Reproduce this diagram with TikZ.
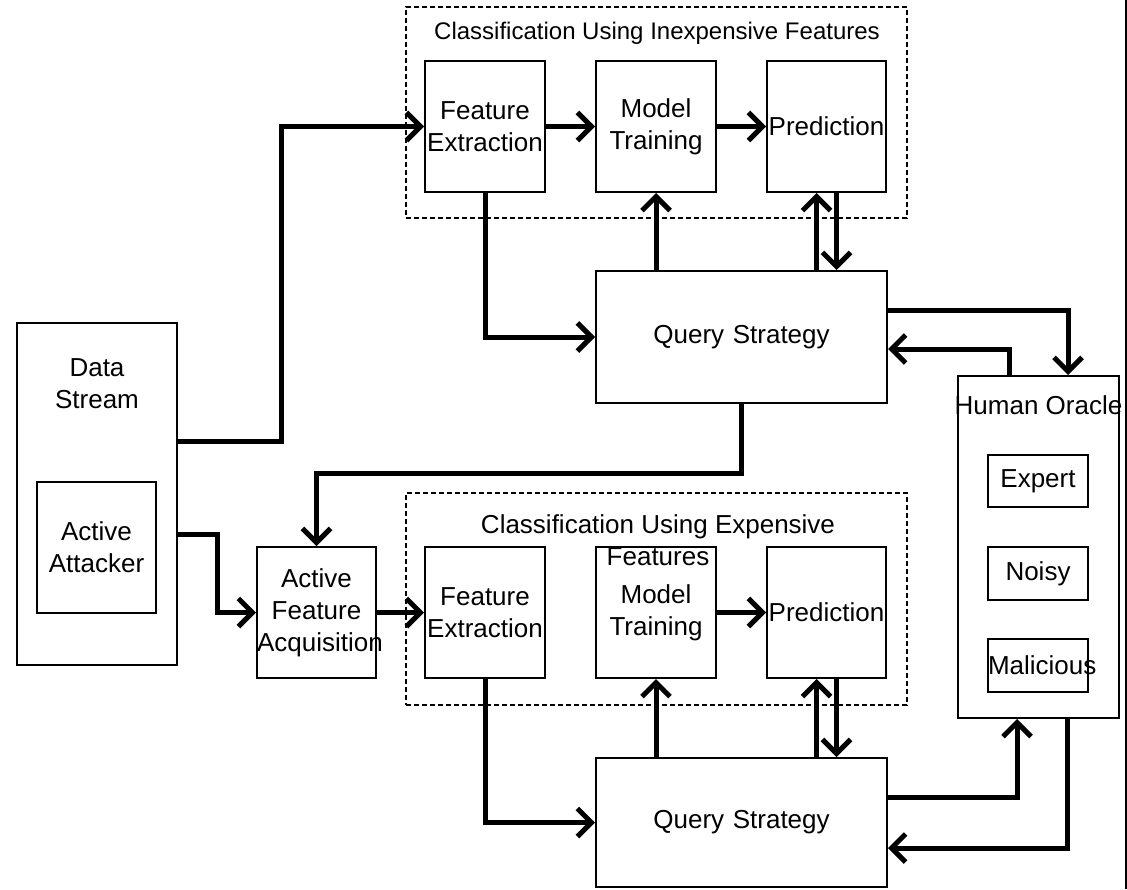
\documentclass[tikz,border=0pt]{standalone}
\usepackage{fontspec}
\setmainfont{Liberation Sans}
\usetikzlibrary{arrows.meta, positioning}
\newcommand\boxfont{\fontsize{13}{16}\selectfont}

\begin{document}
\begin{tikzpicture}[
    x=0.5pt, y=-0.5pt,
    box/.style={draw, line width=1pt, inner xsep=0pt, inner ysep=0pt, align=center, font=\boxfont},
    stage/.style={box, text width=60pt, minimum height=65.5pt},
    query/.style={box, text width=145.5pt, minimum height=66pt},
    choice/.style={box, text width=50pt, minimum height=26pt},
    group/.style={draw, line width=0.8pt, dash pattern=on 2.5pt off 1.5pt, minimum width=250.5pt},
    arr/.style={line width=2.5pt, -{Straight Barb[length=7pt,width=14pt]}}
  ]
    \useasboundingbox (0,0) rectangle (1127,889);

    \node[group, minimum height=105.5pt] (cheapgrp) at (656.5,112.5) {};
    \node[font=\fontsize{12}{15}\selectfont] (cheaptitle) at (657,33) {Classification Using Inexpensive Features};
    \node[stage] (fe1) at (485,126.5) {Feature\\Extraction};
    \node[stage] (mt1) at (656,126.5) {Model\\Training};
    \node[stage, text width=59.5pt] (pr1) at (826.5,126.5) {Prediction};
    \node[query] (qs1) at (741.5,337) {Query Strategy};

    \node[group, minimum height=106pt] (costgrp) at (656.5,599) {};
    \node[font=\boxfont, align=center] (costtitle) at (658,540) {Classification Using Expensive\\Features};
    \node[stage] (fe2) at (485,612.5) {Feature\\Extraction};
    \node[stage] (mt2) at (656,612.5) {Model\\Training};
    \node[stage, text width=59.5pt] (pr2) at (826.5,612.5) {Prediction};
    \node[query, minimum height=64.5pt] (qs2) at (741.5,822.5) {Query Strategy};

    \node[box, text width=80pt, minimum height=171pt] (ds) at (97,494) {};
    \node[font=\boxfont, align=center] (dstext) at (97,383.5) {Data\\Stream};
    \node[box, text width=59.5pt, minimum height=65.5pt] (attacker) at (96.5,547.5) {Active\\Attacker};
    \node[box, text width=59.5pt, minimum height=65.5pt] (afa) at (316.5,612.5) {Active\\Feature\\Acquisition};

    \node[box, text width=80.5pt, minimum height=171pt] (oracle) at (1038.5,547) {};
    \node[font=\boxfont] (oracletext) at (1038.5,405) {Human Oracle};
    \node[choice] (expert) at (1038,481) {Expert};
    \node[choice, minimum height=26.5pt] (noisy) at (1038,573.5) {Noisy};
    \node[choice, minimum height=26.5pt] (malicious) at (1038,665.5) {Malicious};

    \coordinate (upturn) at (281,441);
    \coordinate (downturn) at (217,534);
    \coordinate (crossover) at (741.5,473);

    \draw[arr] (ds.east |- upturn) -- (upturn) |- (fe1.west);
    \draw[arr] (ds.east |- downturn) -- (downturn) |- (afa.west);
    \draw[arr] (fe1) -- (mt1);
    \draw[arr] (mt1) -- (pr1);
    \draw[arr] (fe1.south) |- (qs1.west);
    \draw[arr] (mt1.south |- qs1.north) -- (mt1.south);
    \draw[arr] ([xshift=-5pt]pr1.south |- qs1.north) -- ([xshift=-5pt]pr1.south);
    \draw[arr] ([xshift=5pt]pr1.south) -- ([xshift=5pt]pr1.south |- qs1.north);
    \draw[arr] ([yshift=13.5pt]qs1.east) -| ([xshift=14.75pt]oracle.north);
    \draw[arr] ([xshift=-14.5pt]oracle.north) |- ([yshift=-6pt]qs1.east);
    \draw[arr] (qs1.south) -- (crossover) -| (afa.north);

    \draw[arr] (afa) -- (fe2);
    \draw[arr] (mt2) -- (pr2);
    \draw[arr] (fe2.south) |- (qs2.west);
    \draw[arr] (mt2.south |- qs2.north) -- (mt2.south);
    \draw[arr] ([xshift=-5pt]pr2.south |- qs2.north) -- ([xshift=-5pt]pr2.south);
    \draw[arr] ([xshift=5pt]pr2.south) -- ([xshift=5pt]pr2.south |- qs2.north);
    \draw[arr] ([yshift=12.75pt]qs2.east) -| ([xshift=-10.75pt]oracle.south);
    \draw[arr] ([xshift=14.5pt]oracle.south) |- ([yshift=-12.75pt]qs2.east);

    \draw[line width=1pt] (1126,0) -- (1126,889);
  \end{tikzpicture}
\end{document}
